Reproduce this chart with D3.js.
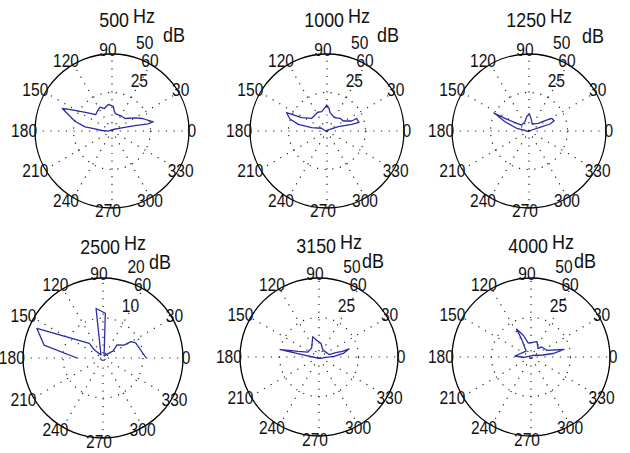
<!DOCTYPE html>
<html><head><meta charset="utf-8">
<script src="https://cdn.jsdelivr.net/npm/d3@7"></script>
<style>
body{margin:0;background:#fff}
svg{display:block}
text{font-family:"Liberation Sans",Arial,sans-serif;fill:#111}
</style>
</head><body>
<svg id="c" width="630" height="453"></svg>
<script>
// ---------- data ----------
const panelFreq = ["500", "1000", "1250", "2500", "3150", "4000"];
const panelMax = [50, 50, 50, 20, 50, 50];
const panelTicks = [[25, 50], [25, 50], [25, 50], [10, 20], [25, 50], [25, 50]];
const spokeAngles = [0, 30, 60, 90, 120, 150, 180, 210, 240, 270, 300, 330];

// angle (deg) / level (dB) per plotted vertex
const angle500 = [155.6, 151, 143.8, 135, 124.9, 116.8, 108.9, 98, 92.2, 87, 83.4, 77.9, 56.8, 43.9, 29.9, 22.4, 12.6, 11.2, 13.4, 18.3, 49, 183, 177.2, 172.6, 171.2, 165.2];
const level500 = [35.4, 27.5, 20.3, 15, 16.2, 17.3, 15.4, 17.4, 16.6, 16.1, 12.9, 11.4, 11.5, 11.7, 17.2, 21.3, 27.5, 24, 15.3, 6.6, 1.3, 2.4, 6.7, 11.1, 17.7, 24.9];

const angle1000 = [155.5, 152.3, 140.3, 129.7, 116.4, 105.4, 94.9, 90.7, 85, 80.9, 61.2, 44.3, 31.5, 22, 22.8, 15.2, 15.2, 20.8, 37.6, 250, 153, 167.8, 166.9, 162];
const level1000 = [28.9, 18.6, 12.9, 12.9, 13.6, 13, 15.2, 16.9, 14.8, 12.3, 9.9, 11.8, 12.4, 17.3, 20.9, 21.5, 16.6, 7.9, 1.1, 0.5, 3.9, 10.2, 19.1, 25.3];

const angle1250 = [152.8, 152.1, 149.3, 140.6, 113.3, 99.1, 89, 81, 64.8, 39.6, 32.8, 29.2, 22.4, 18.4, 18.6, 20, 225, 170, 167.6, 158.8, 153.6];
const level1250 = [25.6, 17.6, 10.6, 6.1, 6.6, 9.4, 11.3, 8.3, 5, 7.8, 12.4, 16.9, 17.6, 14.4, 7.5, 1.9, 0.6, 3.8, 8.2, 16.7, 23.4];

const angle2500 = [0, 25, 30.5, 31.4, 42.9, 35, 63, 87, 98, 124, 137, 133, 155.9, 167.6, 180];
const level2500 = [10.8, 9.0, 8.1, 6.2, 4.8, 3.1, 0.6, 11.2, 12.5, 0.9, 3.0, 5.0, 18.1, 15.1, 6.5];

const angle3150 = [15.2, 13.5, 14.8, 13.6, 60.3, 81.9, 99.8, 107, 129.8, 156.1, 165, 166.9, 169.1, 169.9, 172.3, 180, 270, 345, 2.6, 9];
const level3150 = [19.8, 15.2, 11, 6.6, 5, 8.8, 11, 13.5, 7.3, 7.7, 13.8, 18, 24.8, 17.8, 9.3, 3.9, 0.9, 2.4, 9.6, 16];

const angle4000 = [12.8, 23.1, 43.1, 49.9, 68.8, 100.9, 109.5, 117.4, 117.7, 129.8, 176.4, 184, 36.9, 9.5, 9];
const level4000 = [21.4, 10.8, 9.3, 6.9, 10.5, 9, 14.6, 19.9, 12.7, 4.9, 10.1, 4.4, 1.6, 7.7, 14.1];

const panelAngles = [angle500, angle1000, angle1250, angle2500, angle3150, angle4000];
const panelLevels = [level500, level1000, level1250, level2500, level3150, level4000];
const panelClosed = [true, true, true, false, true, true];

// ---------- layout ----------
const layout = [
  {cx: 112, cy: 131, r: 77, dbX: 51, dbY: -89},
  {cx: 327, cy: 131, r: 77, dbX: 50, dbY: -89},
  {cx: 529, cy: 131, r: 77, dbX: 53, dbY: -88},
  {cx: 103, cy: 358, r: 80, dbX: 46, dbY: -89},
  {cx: 319, cy: 357, r: 79, dbX: 43, dbY: -89},
  {cx: 531, cy: 357, r: 79, dbX: 43, dbY: -89}
];

const svg = d3.select("#c");
svg.append("rect").attr("width", 630).attr("height", 453).attr("fill", "#fff");

function label(g, x, y, txt, size, sx, anchor, baseline) {
  return g.append("text")
    .attr("transform", `translate(${x},${y}) scale(${sx},1)`)
    .attr("font-size", size)
    .attr("text-anchor", anchor)
    .attr("dominant-baseline", baseline)
    .text(txt);
}

panelFreq.forEach((freq, i) => {
  const L = layout[i];
  const rmax = panelMax[i];
  const ticks = panelTicks[i];
  const rinc = ticks[0];
  const g = svg.append("g").attr("transform", `translate(${L.cx},${L.cy})`);
  const rS = d3.scaleLinear().domain([0, rmax]).range([0, L.r]);
  const aS = d3.scaleLinear().domain([0, 360]).range([Math.PI / 2, Math.PI / 2 - 2 * Math.PI]);
  const px = (a, v) => rS(v) * Math.sin(aS(a));
  const py = (a, v) => -rS(v) * Math.cos(aS(a));

  // spokes (dotted)
  [0, 30, 60, 90, 120, 150].forEach(a => {
    g.append("line")
      .attr("x1", px(a + 180, rmax)).attr("y1", py(a + 180, rmax))
      .attr("x2", px(a, rmax)).attr("y2", py(a, rmax))
      .attr("stroke", "#222").attr("stroke-width", 1.2)
      .attr("stroke-dasharray", "1.2 6.5");
  });
  // rings
  ticks.forEach((t, k) => {
    const outer = k === ticks.length - 1;
    g.append("circle").attr("r", rS(t)).attr("fill", "none")
      .attr("stroke", outer ? "#000" : "#222")
      .attr("stroke-width", outer ? 1.3 : 1.2)
      .attr("stroke-dasharray", outer ? null : "1.2 6.5");
  });

  // data line
  const pts = panelAngles[i].map((a, k) => ({a: a, v: panelLevels[i][k]}));
  const line = d3.lineRadial()
    .angle(d => aS(d.a))
    .radius(d => rS(d.v))
    .curve(panelClosed[i] ? d3.curveLinearClosed : d3.curveLinear);
  g.append("path").attr("d", line(pts))
    .attr("fill", "none").attr("stroke", "#2a2aa8").attr("stroke-width", 1.3)
    .attr("stroke-linejoin", "round");

  // spoke labels
  spokeAngles.forEach(a => {
    label(g, px(a, rmax * 1.09) - 4, py(a, rmax * 1.05) - 1, a, 19, 0.82, "middle", "central");
  });

  // ring labels at 82 deg
  ticks.forEach(t => {
    const rr = t + rinc / 20;
    label(g, px(82, rr) + 13, py(82, rr) - 4, t, 19, 0.82, "start", "auto");
  });
  // unit
  label(g, L.dbX, L.dbY, "dB", 20, 0.9, "start", "auto");

  // title
  label(g, 17, -104, freq, 21, 0.85, "end", "auto");
  label(g, 21, -108, "Hz", 20, 0.9, "start", "auto");
});
</script>
</body></html>
